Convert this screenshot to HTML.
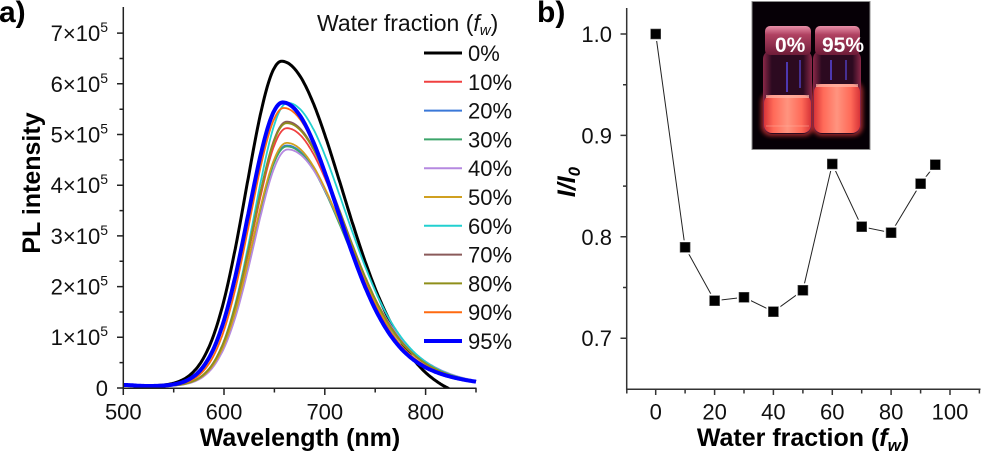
<!DOCTYPE html>
<html><head><meta charset="utf-8">
<style>
html,body{margin:0;padding:0;background:#fff;}
svg{display:block;font-family:"Liberation Sans",Arial,sans-serif;}
</style></head>
<body>
<svg id="s" width="982" height="455" viewBox="0 0 982 455" xmlns="http://www.w3.org/2000/svg">
<defs>
<clipPath id="cp"><rect x="123" y="0" width="354" height="388.5"/></clipPath>
<linearGradient id="liq" x1="0" x2="1" y1="0" y2="0">
<stop offset="0" stop-color="#d83438"/><stop offset="0.2" stop-color="#ff6a58"/><stop offset="0.5" stop-color="#ff947f"/><stop offset="0.8" stop-color="#ff6a58"/><stop offset="1" stop-color="#d83438"/>
</linearGradient>
<linearGradient id="glass" x1="0" x2="1" y1="0" y2="0">
<stop offset="0" stop-color="#8a2848"/><stop offset="0.18" stop-color="#2c0a20"/><stop offset="0.82" stop-color="#2c0a20"/><stop offset="1" stop-color="#8a2848"/>
</linearGradient>
<linearGradient id="cap" x1="0" x2="0" y1="0" y2="1">
<stop offset="0" stop-color="#e890a8"/><stop offset="0.3" stop-color="#b04262"/><stop offset="1" stop-color="#6e1c38"/>
</linearGradient>
<filter id="blur" x="-20%" y="-20%" width="140%" height="140%"><feGaussianBlur stdDeviation="2"/></filter>
</defs>

<!-- ===== Panel a ===== -->
<text x="-1" y="22" font-size="30" font-weight="bold">a)</text>

<g id="curves" clip-path="url(#cp)"></g>

<g stroke="#222" stroke-width="1.5" fill="none">
<line x1="123.3" y1="7" x2="123.3" y2="389"/>
<line x1="122.5" y1="388.3" x2="476.5" y2="388.3"/>
<path d="M117,388H123M117,337.3H123M117,286.6H123M117,235.9H123M117,185.2H123M117,134.5H123M117,83.8H123M117,33.1H123"/>
<path d="M119.5,362.6H123M119.5,312H123M119.5,261.3H123M119.5,210.6H123M119.5,159.9H123M119.5,109.2H123M119.5,58.5H123"/>
<path d="M123.3,388V395M224,388V395M324.8,388V395M425.6,388V395"/>
<path d="M173.7,388V392.5M274.4,388V392.5M375.2,388V392.5M476,388V392.5"/>
</g>

<g font-size="22" text-anchor="end" fill="#111">
<text x="108" y="41">7×10<tspan dy="-9" font-size="14">5</tspan></text>
<text x="108" y="92">6×10<tspan dy="-9" font-size="14">5</tspan></text>
<text x="108" y="142.5">5×10<tspan dy="-9" font-size="14">5</tspan></text>
<text x="108" y="193">4×10<tspan dy="-9" font-size="14">5</tspan></text>
<text x="108" y="244">3×10<tspan dy="-9" font-size="14">5</tspan></text>
<text x="108" y="294.5">2×10<tspan dy="-9" font-size="14">5</tspan></text>
<text x="108" y="345">1×10<tspan dy="-9" font-size="14">5</tspan></text>
<text x="108" y="396">0</text>
</g>
<g font-size="22" text-anchor="middle" fill="#111">
<text x="123.3" y="419.5">500</text>
<text x="224" y="419.5">600</text>
<text x="324.8" y="419.5">700</text>
<text x="425.6" y="419.5">800</text>
</g>
<text x="300" y="446" font-size="25" font-weight="bold" text-anchor="middle">Wavelength (nm)</text>
<text transform="translate(40,183) rotate(-90)" font-size="25" font-weight="bold" text-anchor="middle">PL intensity</text>

<text x="317" y="31" font-size="23" fill="#111">Water fraction (<tspan font-style="italic">f</tspan><tspan font-style="italic" font-size="15" dy="4">w</tspan><tspan dy="-4">)</tspan></text>
<g id="legend"></g>

<!-- ===== Panel b ===== -->
<text x="537" y="22" font-size="30" font-weight="bold">b)</text>

<g stroke="#333" stroke-width="1.5" fill="none">
<line x1="626.7" y1="8" x2="626.7" y2="390"/>
<line x1="626" y1="389.2" x2="980.5" y2="389.2"/>
<path d="M620.5,34H626.7M620.5,135.4H626.7M620.5,236.8H626.7M620.5,338.2H626.7"/>
<path d="M623,84.7H626.7M623,186.1H626.7M623,287.5H626.7"/>
<path d="M655.7,389V395M714.6,389V395M773.4,389V395M832.3,389V395M891.1,389V395M950,389V395"/>
<path d="M626.8,389V393.5M685.1,389V393.5M744,389V393.5M802.9,389V393.5M861.7,389V393.5M920.6,389V393.5M979.4,389V393.5"/>
</g>

<g font-size="22" text-anchor="end" fill="#111">
<text x="612" y="42">1.0</text>
<text x="612" y="143.4">0.9</text>
<text x="612" y="244.8">0.8</text>
<text x="612" y="346.2">0.7</text>
</g>
<g font-size="22" text-anchor="middle" fill="#111">
<text x="655.7" y="419.5">0</text>
<text x="714.6" y="419.5">20</text>
<text x="773.4" y="419.5">40</text>
<text x="832.3" y="419.5">60</text>
<text x="891.1" y="419.5">80</text>
<text x="950" y="419.5">100</text>
</g>
<text x="803" y="446" font-size="25" font-weight="bold" text-anchor="middle">Water fraction (<tspan font-style="italic">f</tspan><tspan font-style="italic" font-size="17" dy="5">w</tspan><tspan dy="-5">)</tspan></text>
<text transform="translate(575,182) rotate(-90)" font-size="25" font-weight="bold" font-style="italic" text-anchor="middle">I/I<tspan font-size="17" dy="5">0</tspan></text>

<polyline fill="none" stroke="#222" stroke-width="1" points="655.7,34 685.1,247.3 714.6,300.7 744,297.3 773.4,311.7 802.9,290.3 832.3,164 861.7,226.7 891.1,232.7 920.6,183.7 935.3,164.7"/>
<g id="marks"></g>

<!-- inset photo -->
<g>
<rect x="752" y="1.5" width="118" height="148" fill="#060006" stroke="#8c8c8c" stroke-width="1"/>
<g filter="url(#blur)" opacity="0.6">
<rect x="761" y="92" width="53" height="44" rx="10" fill="#ff4040"/>
<rect x="812" y="81" width="51" height="55" rx="10" fill="#ff4040"/>
</g>
<!-- left vial -->
<rect x="763" y="50" width="49" height="84" rx="9" fill="url(#glass)"/>
<rect x="764" y="95" width="47" height="38" rx="8" fill="url(#liq)"/>
<rect x="766" y="95" width="43" height="3" fill="#ffb8a8" opacity="0.7"/>
<line x1="766" y1="126" x2="809" y2="126" stroke="#ffb0a0" stroke-width="1" opacity="0.5"/>
<rect x="765" y="26" width="46" height="29" rx="5" fill="url(#cap)"/>
<line x1="787" y1="62" x2="787" y2="92" stroke="#5848e0" stroke-width="1.5"/>
<line x1="800" y1="60" x2="800" y2="88" stroke="#5848e0" stroke-width="1.2"/>
<!-- right vial -->
<rect x="813" y="50" width="48" height="84" rx="9" fill="url(#glass)"/>
<rect x="814" y="84" width="46" height="49" rx="8" fill="url(#liq)"/>
<rect x="816" y="84" width="42" height="3" fill="#ffb8a8" opacity="0.7"/>
<rect x="815" y="26" width="45" height="29" rx="5" fill="url(#cap)"/>
<line x1="831" y1="60" x2="831" y2="80" stroke="#5848e0" stroke-width="1.5"/>
<line x1="846" y1="60" x2="846" y2="80" stroke="#5848e0" stroke-width="1.2"/>
<text x="775" y="52" font-size="21" font-weight="bold" fill="#fff">0%</text>
<text x="822" y="52" font-size="21" font-weight="bold" fill="#fff">95%</text>
</g>
</svg>

<script>
(function(){
var NS="http://www.w3.org/2000/svg";
function X(l){return 123.3+(l-500)*1.0077;}
function Y(v){return 388-50.7*v;}
var P=[
['0%','#000000',3,6.41,657,35,60,0],
['10%','#f04040',1.8,5.08,662,33,57,1],
['20%','#3a78d8',1.8,4.74,662,33,58,1],
['30%','#3ca56a',1.8,4.72,662,33,58,1],
['40%','#b589e0',1.8,4.66,663,33,59,1],
['50%','#d0a020',1.8,4.79,662,33,58,1],
['60%','#22d0d0',1.8,5.58,663,33,57,1],
['70%','#8a5a5a',1.8,5.21,662,33,57,1],
['80%','#8f8f1a',1.8,5.18,662,33,57,1],
['90%','#ff6a10',1.8,5.48,659,33,56,1],
['95%','#0000ff',4,5.59,658,34,55,1]
];
var g=document.getElementById('curves');
var lg=document.getElementById('legend');
P.forEach(function(p,i){
  var d='';
  for(var l=500;l<=850;l+=1){
    var dd=l-p[4], s=dd<0?p[5]:p[6];
    var v=p[3]*Math.exp(-dd*dd/(2*s*s))+0.035+0.025*Math.exp(-Math.pow((l-500)/15,2));
    if(p[7]) v+=0.18*Math.exp(-Math.pow(l-785,2)/5000);
    else v-=0.0035*Math.max(0,l-770);
    d+=(l==500?'M':'L')+X(l).toFixed(1)+','+Y(v).toFixed(1);
  }
  var e=document.createElementNS(NS,'path');
  e.setAttribute('d',d);e.setAttribute('fill','none');
  e.setAttribute('stroke',p[1]);e.setAttribute('stroke-width',p[2]);
  e.setAttribute('stroke-linejoin','round');
  g.appendChild(e);
  var yy=53+i*28.8;
  var ln=document.createElementNS(NS,'line');
  ln.setAttribute('x1',424);ln.setAttribute('x2',462);
  ln.setAttribute('y1',yy);ln.setAttribute('y2',yy);
  ln.setAttribute('stroke',p[1]);ln.setAttribute('stroke-width',p[2]===1.8?2:p[2]);
  lg.appendChild(ln);
  var t=document.createElementNS(NS,'text');
  t.setAttribute('x',468);t.setAttribute('y',yy+8);
  t.setAttribute('font-size',22);t.setAttribute('fill','#111');
  t.textContent=p[0];
  lg.appendChild(t);
});
var M=[[655.7,34],[685.1,247.3],[714.6,300.7],[744,297.3],[773.4,311.7],[802.9,290.3],[832.3,164],[861.7,226.7],[891.1,232.7],[920.6,183.7],[935.3,164.7]];
var mg=document.getElementById('marks');
M.forEach(function(m){
  var w=document.createElementNS(NS,'rect');
  w.setAttribute('x',m[0]-7);w.setAttribute('y',m[1]-7);
  w.setAttribute('width',14);w.setAttribute('height',14);w.setAttribute('fill','#fff');
  mg.appendChild(w);
  var r=document.createElementNS(NS,'rect');
  r.setAttribute('x',m[0]-5);r.setAttribute('y',m[1]-5);
  r.setAttribute('width',10);r.setAttribute('height',10);r.setAttribute('fill','#000');
  r.setAttribute('stroke','#555');r.setAttribute('stroke-width','0.6');
  mg.appendChild(r);
});
})();
</script>
</body></html>
